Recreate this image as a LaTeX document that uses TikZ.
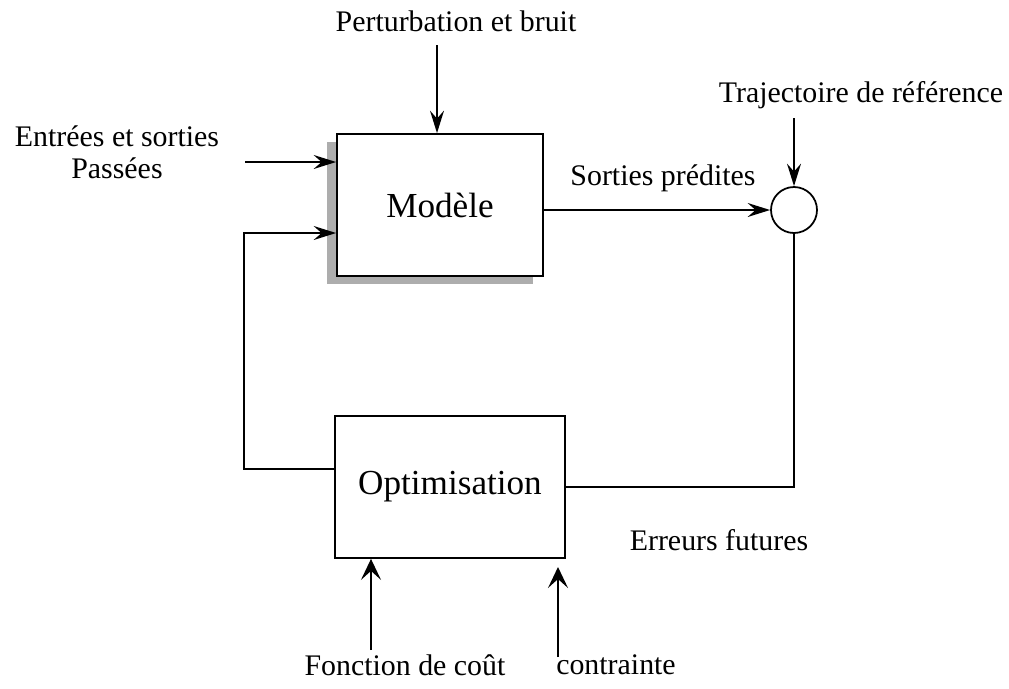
\documentclass[tikz,border=0pt]{standalone}
\usepackage{fontspec}
\setmainfont{Liberation Serif}
\usetikzlibrary{arrows.meta,shadows}

\tikzset{
  blockbox/.style={draw, line width=1pt, fill=white, minimum height=2.84cm,
    font=\fontsize{20}{24}\selectfont},
  labeltext/.style={font=\fontsize{17}{18}\selectfont, inner sep=1pt},
  arr/.style={-{Stealth[length=4.5mm,width=2.8mm,inset=1.6mm]}, line width=1pt},
  bigarr/.style={-{Stealth[length=4.2mm,width=4mm,inset=1.8mm]}, line width=1.2pt},
  conn/.style={line width=1pt}
}

\begin{document}
\begin{tikzpicture}
    \useasboundingbox (0,0) rectangle (20.18,-13.76);

    % Draw the two blocks and the summing circle
    \node[blockbox, minimum width=4.12cm,
      drop shadow={shadow xshift=-0.2cm, shadow yshift=-0.15cm, fill=black!32, opacity=1}]
      (mdl) at (8.80,-4.10) {Modèle};
    \node[blockbox, minimum width=4.6cm] (opt) at (9.00,-9.74) {Optimisation};
    \node[draw, circle, line width=1pt, minimum size=0.92cm, inner sep=0pt] (sum) at (15.88,-4.20) {};

    % Labels
    \node[labeltext] (pert) at (9.12,-0.42) {Perturbation et bruit};
    \node[labeltext] (traj) at (17.22,-1.90) {Trajectoire de référence};
    \node[labeltext, align=center] (entr) at (2.34,-3.05) {Entrées et sorties\\Passées};
    \node[labeltext] (pred) at (13.26,-3.56) {Sorties prédites};
    \node[labeltext] (err) at (14.38,-10.80) {Erreurs futures};
    \node[labeltext] (cout) at (8.10,-13.30) {Fonction de coût};
    \node[labeltext] (ctr) at (12.32,-13.30) {contrainte};

    % Free ends of the input arrows
    \coordinate (pin) at (8.74,-0.90);
    \coordinate (tin) at (15.88,-2.36);
    \coordinate (ein) at (4.90,-3.24);
    \coordinate (fin) at (7.42,-13.00);
    \coordinate (cin) at (11.16,-13.14);

    % Connectors
    \draw[arr] (pin) -- (pin |- mdl.north);
    \draw[arr] (tin) -- (sum.north);
    \draw[arr] (ein) -- (ein -| mdl.west);
    \draw[arr] (mdl.east |- sum.west) -- (sum.west);
    \draw[conn] (sum.south) |- (opt.east);
    \draw[arr] ([yshift=0.36cm]opt.west) -- ++(-1.8,0) |- ([yshift=-0.56cm]mdl.west);
    \draw[bigarr] (fin) -- (fin |- opt.south);
    \draw[bigarr] (cin) -- ++(0,1.8);
\end{tikzpicture}
\end{document}
